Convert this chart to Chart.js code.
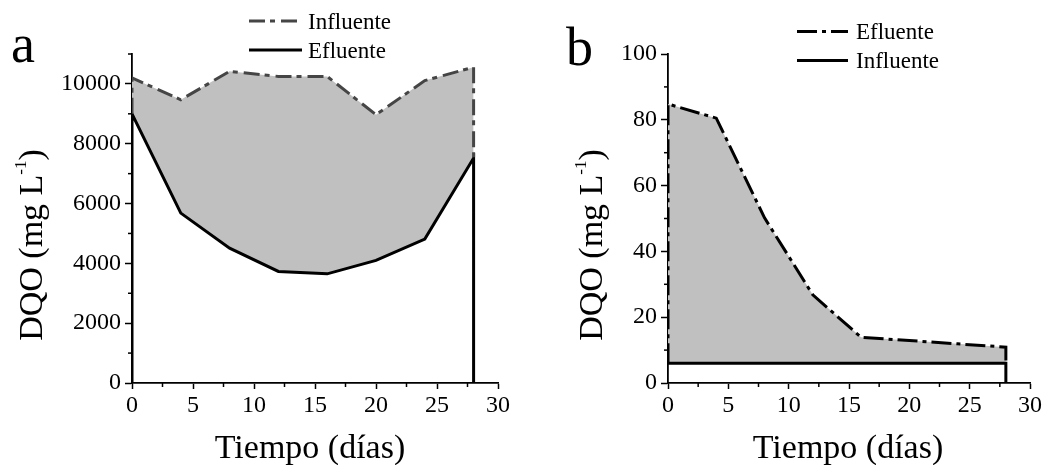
<!DOCTYPE html>
<html><head><meta charset="utf-8">
<script src="https://cdn.jsdelivr.net/npm/chart.js@4.4.1/dist/chart.umd.min.js"></script>
<style>
html,body{margin:0;padding:0;background:#fff;}
#wrap{position:relative;width:1048px;height:465px;overflow:hidden;background:#fff;}
.box{position:absolute;top:0;width:524px;height:465px;}
canvas{display:block;}
</style></head><body>
<div id="wrap">
<div class="box" style="left:0"><canvas id="ca" width="524" height="465"></canvas></div>
<div class="box" style="left:524px"><canvas id="cb" width="524" height="465"></canvas></div>
</div>
<script>
// ---- data ----
const days = [0, 4, 8, 12, 16, 20, 24, 28];
const influenteA = [10200, 9470, 10420, 10250, 10250, 8970, 10110, 10560];
const efluenteA = [9000, 5680, 4510, 3730, 3650, 4100, 4810, 7520];
const efluenteB = [84.8, 80.5, 50.2, 26.8, 13.9, 12.9, 11.9, 10.9];
const influenteB = [6, 6, 6, 6, 6, 6, 6, 6];
const xTicks = [0, 5, 10, 15, 20, 25, 30];
const yTicksA = [0, 2000, 4000, 6000, 8000, 10000];
const yTicksB = [0, 20, 40, 60, 80, 100];
const xMinor = [2.5, 7.5, 12.5, 17.5, 22.5, 27.5];
const yMinorA = [1000, 3000, 5000, 7000, 9000, 11000];
const yMinorB = [10, 30, 50, 70, 90];
const labelsA = ['Influente', 'Efluente'];
const labelsB = ['Efluente', 'Influente'];
const panelA = 'a', panelB = 'b';
const xTitle = 'Tiempo (días)';
const yTitleMain = 'DQO (mg L', yTitleSup = '-1', yTitleEnd = ')';

const FONT = "'Liberation Serif', 'Times New Roman', serif";
const pts = (xs, ys) => xs.map((x, i) => ({x: x, y: ys[i]}));
const last = a => a[a.length - 1];

const deco = {
  id: 'deco',
  afterDraw(chart, args, o) {
    const ctx = chart.ctx, xs = chart.scales.x, ys = chart.scales.y;
    ctx.save();
    // minor ticks
    ctx.strokeStyle = '#000'; ctx.lineWidth = 1.5; ctx.setLineDash([]);
    o.xMinor.forEach(v => {
      const px = xs.getPixelForValue(v);
      ctx.beginPath(); ctx.moveTo(px, xs.top); ctx.lineTo(px, xs.top + 4); ctx.stroke();
    });
    o.yMinor.forEach(v => {
      const py = ys.getPixelForValue(v);
      ctx.beginPath(); ctx.moveTo(ys.right - 4, py); ctx.lineTo(ys.right, py); ctx.stroke();
    });
    // legend
    ctx.fillStyle = '#000';
    ctx.textBaseline = 'alphabetic';
    chart.data.datasets.forEach((ds, i) => {
      const ly = o.legY[i];
      ctx.save();
      ctx.strokeStyle = ds.borderColor; ctx.lineWidth = ds.borderWidth;
      ctx.setLineDash(ds.borderDash || []);
      ctx.beginPath(); ctx.moveTo(o.legX0, ly); ctx.lineTo(o.legX1, ly); ctx.stroke();
      ctx.restore();
      ctx.font = '23px ' + FONT; ctx.textAlign = 'left';
      ctx.fillText(ds.label, o.legTX, ly + 7.5);
    });
    // panel letter
    ctx.font = '54px ' + FONT; ctx.textAlign = 'left';
    ctx.fillText(o.panel, o.panelX, o.panelY);
    // x title
    ctx.font = '34px ' + FONT; ctx.textAlign = 'center';
    ctx.fillText(xTitle, o.xTitleX, 458);
    // y title
    ctx.translate(o.yTitleX, 245);
    ctx.rotate(-Math.PI / 2);
    ctx.textAlign = 'left';
    ctx.font = '34px ' + FONT; const w1 = ctx.measureText(yTitleMain).width, w3 = ctx.measureText(yTitleEnd).width;
    ctx.font = '17px ' + FONT; const w2 = ctx.measureText(yTitleSup).width;
    let sx = -(w1 + w2 + w3) / 2;
    ctx.font = '34px ' + FONT; ctx.fillText(yTitleMain, sx, 0); sx += w1;
    ctx.font = '17px ' + FONT; ctx.fillText(yTitleSup, sx, -16); sx += w2;
    ctx.font = '34px ' + FONT; ctx.fillText(yTitleEnd, sx, 0);
    ctx.restore();
  }
};

function makeScales(yTicks, yMax, yWidth) {
  const tickFont = {family: FONT, size: 24};
  return {
    x: {
      type: 'linear', min: 0, max: 30,
      afterBuildTicks: s => { s.ticks = xTicks.map(v => ({value: v})); },
      afterFit: s => { s.height = 82; },
      ticks: {font: tickFont, color: '#000', padding: 2, maxRotation: 0, autoSkip: false, callback: v => String(v)},
      grid: {drawOnChartArea: false, tickLength: 6, tickColor: '#000', tickWidth: 1.5},
      border: {color: '#000', width: 1.8}
    },
    y: {
      type: 'linear', min: 0, max: yMax,
      afterBuildTicks: s => { s.ticks = yTicks.map(v => ({value: v})); },
      afterFit: s => { s.width = yWidth; },
      ticks: {font: tickFont, color: '#000', padding: 4, autoSkip: false, callback: v => String(v)},
      grid: {drawOnChartArea: false, tickLength: 7, tickColor: '#000', tickWidth: 1.5},
      border: {color: '#000', width: 1.8}
    }
  };
}

const common = (padRight) => ({
  responsive: false, animation: false, devicePixelRatio: 1, events: [],
  layout: {padding: {top: 54, right: padRight, bottom: 0, left: 0}},
  elements: {point: {radius: 0}, line: {tension: 0}}
});

// ---- chart a ----
new Chart(document.getElementById('ca'), {
  type: 'line',
  data: {datasets: [
    {label: labelsA[0], data: [{x: 0, y: efluenteA[0]}, ...pts(days, influenteA), {x: last(days), y: last(efluenteA)}],
     borderColor: '#454545', borderWidth: 3, borderDash: [16, 5, 5, 6], fill: {target: 1}, backgroundColor: '#c0c0c0'},
    {label: labelsA[1], data: [{x: 0, y: 0}, ...pts(days, efluenteA), {x: last(days), y: 0}],
     borderColor: '#000', borderWidth: 3, fill: false}
  ]},
  options: Object.assign(common(26), {
    scales: makeScales(yTicksA, 11000, 132),
    plugins: {legend: {display: false}, tooltip: {enabled: false}, filler: {drawTime: 'beforeDatasetsDraw'},
      deco: {xMinor: xMinor, yMinor: yMinorA, legX0: 249, legX1: 302, legTX: 308, legY: [21, 50],
             panel: panelA, panelX: 11, panelY: 62, xTitleX: 310, yTitleX: 42}}
  }),
  plugins: [deco]
});

// ---- chart b ----
new Chart(document.getElementById('cb'), {
  type: 'line',
  data: {datasets: [
    {label: labelsB[0], data: [{x: 0, y: influenteB[0]}, ...pts(days, efluenteB), {x: last(days), y: last(influenteB)}],
     borderColor: '#000', borderWidth: 3, borderDash: [20, 5, 4, 5], fill: {target: 1}, backgroundColor: '#c0c0c0'},
    {label: labelsB[1], data: [...pts(days, influenteB), {x: last(days), y: 0}],
     borderColor: '#000', borderWidth: 3, fill: false}
  ]},
  options: Object.assign(common(18), {
    scales: makeScales(yTicksB, 100, 144),
    plugins: {legend: {display: false}, tooltip: {enabled: false}, filler: {drawTime: 'beforeDatasetsDraw'},
      deco: {xMinor: xMinor, yMinor: yMinorB, legX0: 273, legX1: 324, legTX: 332, legY: [31.5, 60.5],
             panel: panelB, panelX: 42, panelY: 65, xTitleX: 324, yTitleX: 78}}
  }),
  plugins: [deco]
});
</script>
</body></html>
